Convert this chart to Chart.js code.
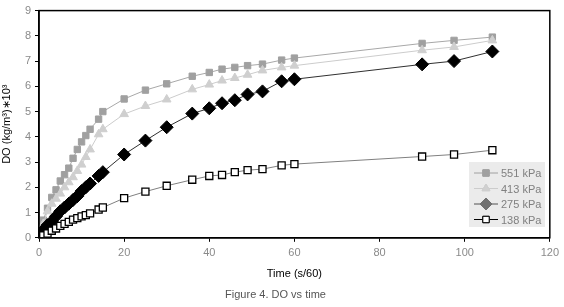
<!DOCTYPE html>
<html>
<head>
<meta charset="utf-8">
<script src="https://cdn.jsdelivr.net/npm/chart.js@4.4.0/dist/chart.umd.min.js"></script>
<style>
  html, body { margin: 0; padding: 0; background: #fff; }
  #wrap { width: 564px; height: 307px; }
</style>
</head>
<body>
<div id="wrap"><canvas id="doChart" width="564" height="307"></canvas></div>
<script>
// sample times (s/60)
const times = [0, 1, 2, 3, 4, 5, 6, 7, 8, 9, 10, 11, 12, 14, 15, 20, 25, 30, 36, 40, 43, 46, 49, 52.5, 57, 60, 90, 97.5, 106.5];

const do551 = [0.05, 0.7, 1.17, 1.6, 1.9, 2.25, 2.5, 2.76, 3.15, 3.5, 3.8, 4.05, 4.3, 4.7, 5.0, 5.5, 5.85, 6.1, 6.4, 6.55, 6.68, 6.75, 6.82, 6.88, 7.04, 7.12, 7.7, 7.82, 7.95];
const do413 = [0.1, 0.55, 1.05, 1.35, 1.55, 1.75, 2.0, 2.2, 2.4, 2.65, 2.9, 3.2, 3.5, 4.1, 4.3, 4.9, 5.22, 5.48, 5.88, 6.07, 6.23, 6.33, 6.46, 6.63, 6.75, 6.82, 7.43, 7.56, 7.82];
const do275 = [0, 0.3, 0.5, 0.65, 0.85, 1.05, 1.2, 1.35, 1.5, 1.65, 1.85, 2.0, 2.15, 2.45, 2.6, 3.3, 3.85, 4.38, 4.92, 5.13, 5.33, 5.45, 5.68, 5.8, 6.2, 6.28, 6.87, 7.0, 7.38];
const do138 = [0, 0.1, 0.17, 0.28, 0.37, 0.47, 0.55, 0.63, 0.72, 0.78, 0.85, 0.9, 0.97, 1.12, 1.2, 1.57, 1.83, 2.06, 2.3, 2.45, 2.49, 2.6, 2.68, 2.72, 2.87, 2.92, 3.22, 3.3, 3.47];

const seriesLabels = ['551 kPa', '413 kPa', '275 kPa', '138 kPa'];
const xTicks = [0, 20, 40, 60, 80, 100, 120];
const yTicks = [0, 1, 2, 3, 4, 5, 6, 7, 8, 9];

const pts = vals => times.map((t, i) => ({ x: t, y: vals[i] }));

const styles = [
  { line: '#a8a8a8', fill: '#a0a0a0', edge: '#a0a0a0', shape: 'rect', r: 4.5 },
  { line: '#cccccc', fill: '#cfcfcf', edge: '#cfcfcf', shape: 'triangle', r: 5 },
  { line: '#303030', fill: '#000000', edge: '#000000', shape: 'rectRot', r: 6.5 },
  { line: '#808080', fill: '#ffffff', edge: '#000000', shape: 'rect', r: 5 }
];

const allValues = [do551, do413, do275, do138];

const datasets = allValues.map((v, i) => ({
  label: seriesLabels[i],
  data: pts(v),
  showLine: true,
  borderColor: styles[i].line,
  borderWidth: 1,
  pointStyle: styles[i].shape,
  pointRadius: styles[i].r,
  pointBackgroundColor: styles[i].fill,
  pointBorderColor: styles[i].edge,
  pointBorderWidth: i === 3 ? 1.3 : 1,
  tension: 0
})).reverse();

const fontFam = '"Liberation Sans", Arial, sans-serif';

// frame + legend box inside the plot
const frameAndLegend = {
  id: 'frameAndLegend',
  afterDraw(chart) {
    const { ctx, chartArea: a } = chart;
    ctx.save();
    ctx.strokeStyle = '#000';
    ctx.lineWidth = 1.5;
    ctx.strokeRect(a.left, a.top, a.right - a.left, a.bottom - a.top);

    const bx = 469, by = 162, bw = 76, bh = 65;
    ctx.fillStyle = '#ebebeb';
    ctx.fillRect(bx, by, bw, bh);
    ctx.font = '11px ' + fontFam;
    ctx.textBaseline = 'middle';
    const legendFill = ['#a0a0a0', '#d0d0d0', '#707070', '#ffffff'];
    const legendLine = ['#a0a0a0', '#cccccc', '#505050', '#000000'];
    seriesLabels.forEach((lab, i) => {
      const y = by + 11 + i * 15.5;
      ctx.strokeStyle = legendLine[i];
      ctx.lineWidth = 1;
      ctx.beginPath();
      ctx.moveTo(bx + 5, y);
      ctx.lineTo(bx + 29, y);
      ctx.stroke();
      Chart.helpers.drawPoint(ctx, {
        pointStyle: styles[i].shape,
        radius: i === 2 ? 6 : 4.5,
        borderWidth: 1
      }, bx + 17, y);
      ctx.fillStyle = legendFill[i];
      ctx.strokeStyle = i === 3 ? '#000' : legendFill[i];
      ctx.fill();
      ctx.stroke();
      ctx.fillStyle = '#808080';
      ctx.textAlign = 'left';
      ctx.fillText(lab, bx + 32, y + 1);
    });
    ctx.restore();
  }
};

new Chart(document.getElementById('doChart'), {
  type: 'scatter',
  data: { datasets },
  options: {
    responsive: false,
    animation: false,
    layout: { padding: { left: 0, right: 13, top: 4, bottom: 2 } },
    plugins: {
      legend: { display: false },
      tooltip: { enabled: false },
      title: {
        display: true,
        position: 'bottom',
        text: 'Figure 4. DO vs time',
        color: '#555',
        font: { family: fontFam, size: 11, weight: 'normal' },
        padding: { top: 8, bottom: 3 }
      }
    },
    scales: {
      x: {
        type: 'linear',
        min: 0, max: 120,
        afterBuildTicks: s => { s.ticks = xTicks.map(v => ({ value: v })); },
        afterFit: s => { s.height = 43; },
        grid: { display: true, drawOnChartArea: false, drawTicks: true, tickLength: 4, color: '#000', lineWidth: 1 },
        border: { display: true, color: '#000', width: 1.5 },
        ticks: { color: '#8a8a8a', padding: 5, font: { family: fontFam, size: 11 } },
        title: { display: true, text: 'Time (s/60)', color: '#000', padding: { top: 2, bottom: 0 }, font: { family: fontFam, size: 11 } }
      },
      y: {
        type: 'linear',
        min: 0, max: 9,
        afterBuildTicks: s => { s.ticks = yTicks.map(v => ({ value: v })); },
        afterFit: s => { s.width = 39; },
        grid: { display: true, drawOnChartArea: false, drawTicks: true, tickLength: 4, color: '#000', lineWidth: 1 },
        border: { display: true, color: '#000', width: 1.5 },
        ticks: { color: '#8a8a8a', padding: 4, font: { family: fontFam, size: 11 } },
        title: { display: true, text: 'DO (kg/m³)∗10³', color: '#000', padding: { top: 0, bottom: 2 }, font: { family: fontFam, size: 11 } }
      }
    }
  },
  plugins: [frameAndLegend]
});
</script>
</body>
</html>
